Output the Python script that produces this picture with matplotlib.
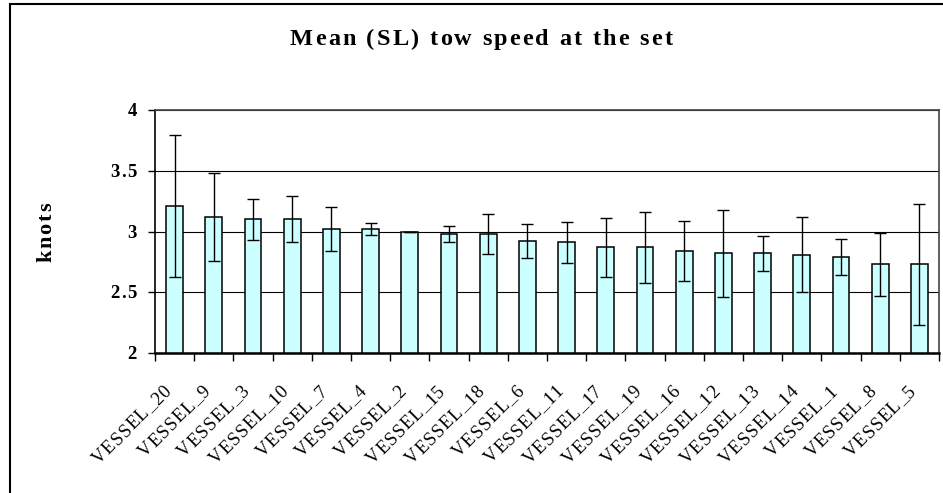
import numpy as np
import matplotlib
matplotlib.use("Agg")
import matplotlib.pyplot as plt
from matplotlib.patches import Rectangle
from matplotlib.transforms import IdentityTransform
from matplotlib.font_manager import FontProperties

vessels = ["VESSEL_20", "VESSEL_9", "VESSEL_3", "VESSEL_10", "VESSEL_7",
           "VESSEL_4", "VESSEL_2", "VESSEL_15", "VESSEL_18", "VESSEL_6",
           "VESSEL_11", "VESSEL_17", "VESSEL_19", "VESSEL_16", "VESSEL_12",
           "VESSEL_13", "VESSEL_14", "VESSEL_1", "VESSEL_8", "VESSEL_5"]
mean_speed = [3.21, 3.12, 3.10, 3.10, 3.02, 3.02, 3.00, 2.98, 2.98, 2.92,
              2.91, 2.87, 2.87, 2.84, 2.82, 2.82, 2.81, 2.79, 2.73, 2.73]
speed_err = [0.585, 0.36, 0.17, 0.19, 0.18, 0.05, 0.0, 0.063, 0.167, 0.14,
             0.168, 0.244, 0.29, 0.244, 0.36, 0.145, 0.31, 0.145, 0.257, 0.5]
yticks = [2, 2.5, 3, 3.5, 4]

W, H = 943, 493
SERIF = ['Liberation Serif', 'DejaVu Serif']
plt.rcParams['font.family'] = SERIF

fig = plt.figure(figsize=(W / 100, H / 100), dpi=100)
ax = fig.add_axes([155 / W, 1 - 353 / H, 784 / W, 243 / H])
renderer = fig.canvas.get_renderer()


def spaced_text(s, x, y, size, gap, rotation=0, weight="normal", ha="left"):
    # Excel spreads its letters out, so lay the string down one char at a time.
    # x, y are display pixels of the baseline anchor.
    prop = FontProperties(family=SERIF, size=size, weight=weight)

    def adv(t):
        w1 = renderer.get_text_width_height_descent("x" + t + "x", prop, ismath=False)[0]
        w0 = renderer.get_text_width_height_descent("xx", prop, ismath=False)[0]
        return w1 - w0

    offs = [adv(s[:i]) + i * gap for i in range(len(s))]
    total = adv(s) + (len(s) - 1) * gap
    start = {"left": 0.0, "center": -total / 2, "right": -total}[ha]
    dx, dy = np.cos(np.radians(rotation)), np.sin(np.radians(rotation))
    for ch, o in zip(s, offs):
        d = start + o
        fig.text(x + d * dx, y + d * dy, ch, transform=IdentityTransform(),
                 fontproperties=prop, rotation=rotation, rotation_mode="anchor",
                 ha="left", va="baseline")


x = np.arange(len(vessels))
ax.bar(x, np.array(mean_speed) - 2, bottom=2, width=0.43, color="#ccffff",
       edgecolor="black", linewidth=1.1, zorder=3)
ax.errorbar(x, mean_speed, yerr=speed_err, fmt="none", ecolor="black",
            elinewidth=1.0, capsize=4, capthick=1.0, zorder=4)

ax.set_xlim(-0.5, len(vessels) - 0.5)
ax.set_ylim(2, 4)
ax.set_yticks(yticks)
ax.set_yticklabels([])
ax.yaxis.grid(True, color="black", linewidth=0.8, zorder=0)
ax.tick_params(axis="y", direction="out", length=4.8, width=1)

ax.set_xticks(x)
ax.set_xticklabels([])
ax.set_xticks(np.arange(len(vessels) + 1) - 0.5, minor=True)
ax.tick_params(axis="x", which="major", length=0)
ax.tick_params(axis="x", which="minor", direction="out", length=5.5, width=1)

for side in ["top", "right"]:
    ax.spines[side].set_color("#444444")
    ax.spines[side].set_linewidth(1.2)
ax.spines["left"].set_linewidth(1.2)
ax.spines["bottom"].set_linewidth(1.8)

# y tick labels, right aligned about 18 px left of the axis
for v in yticks:
    yd = ax.transData.transform((0, v))[1]
    spaced_text(f"{v:g}", 137, yd - 6, 13.5, 1.5, weight="bold", ha="right")

# category labels at 45 degrees, ending just below each bar
for i, name in enumerate(vessels):
    xd = ax.transData.transform((i, 2))[0]
    spaced_text(name, xd - 3, H - 392, 13.5, 0.8, rotation=45, ha="right")

spaced_text("knots", 51.5, H - 232.5, 16, 1.8, rotation=90, weight="bold",
            ha="center")
spaced_text("Mean (SL) tow speed at the set", 481, H - 45, 17.5, 2.2,
            weight="bold", ha="center")

# outer chart border (cut off on the right and bottom)
fig.patches.append(Rectangle((10 / W, -0.2), 1.2, 1.2 - 4 / H,
                             transform=fig.transFigure, fill=False,
                             edgecolor="black", linewidth=1.5))

fig.savefig("out.png", dpi=100)
